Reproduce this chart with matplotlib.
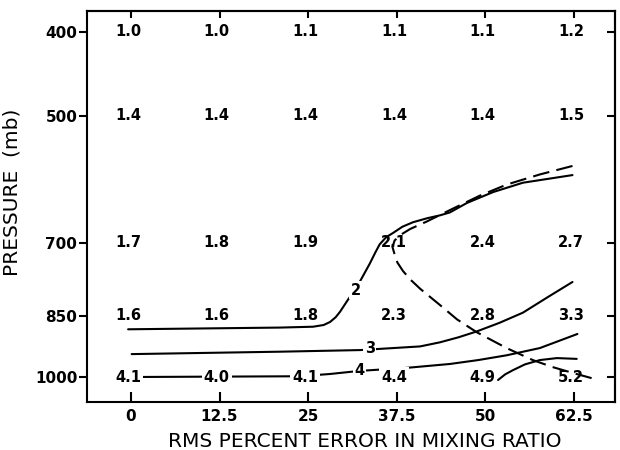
import numpy as np
import matplotlib
matplotlib.use("Agg")
import matplotlib.pyplot as plt

# ---- data ----
x_ticks = [0, 12.5, 25, 37.5, 50, 62.5]
x_tick_labels = ["0", "12.5", "25", "37.5", "50", "62.5"]
pressure_levels = [400, 500, 700, 850, 1000]

values_400 = ["1.0", "1.0", "1.1", "1.1", "1.1", "1.2"]
values_500 = ["1.4", "1.4", "1.4", "1.4", "1.4", "1.5"]
values_700 = ["1.7", "1.8", "1.9", "2.1", "2.4", "2.7"]
values_850 = ["1.6", "1.6", "1.8", "2.3", "2.8", "3.3"]
values_1000 = ["4.1", "4.0", "4.1", "4.4", "4.9", "5.2"]

# contour 2 (solid)
c2_x = [-0.4, 21.0, 25.7, 27.2, 28.1, 28.9, 29.5, 30.6, 31.9, 33.7, 34.5, 35.1, 36.0, 37.0, 38.3, 39.8, 41.8, 43.6, 45.0, 47.4, 51.1, 55.3, 62.3]
c2_p = [881, 877, 875, 871, 864, 853, 841, 815, 787, 740, 718, 703, 690, 682, 671, 663, 656, 651, 646, 630, 612, 597, 585]
# contour 3 (solid)
c3_x = [0.1, 21.0, 32.3, 40.8, 43.6, 46.2, 48.8, 52.0, 55.3, 58.8, 62.3]
c3_p = [941, 935, 931, 922, 912, 900, 886, 866, 843, 809, 777]
# contour 4 (solid)
c4_x = [0.0, 23.8, 28.1, 32.2, 38.9, 45.0, 49.0, 53.0, 57.7, 63.0]
c4_p = [1000, 998, 992, 984, 976, 966, 956, 944, 926, 892]
# contour 5 (solid, unlabeled)
c5_x = [51.8, 52.8, 53.9, 55.6, 57.7, 60.1, 62.9]
c5_p = [1008, 993, 982, 967, 956, 951, 953]
# dashed contour
cd_x = [62.3, 57.7, 53.0, 49.2, 45.0, 41.7, 39.4, 38.0, 37.2, 36.9, 37.2, 37.6, 38.4, 39.5, 40.8, 43.6, 46.0, 48.8, 53.0, 56.7, 59.5, 62.3, 65.0]
cd_p = [571, 584, 600, 618, 642, 662, 675, 686, 696, 708, 722, 738, 755, 773, 791, 826, 858, 888, 926, 956, 974, 989, 1003]

contour_labels = ["2", "3", "4"]
contour_label_x = [31.7, 33.7, 32.2]
contour_label_p = [794, 926, 982]

# ---- figure ----
fig = plt.figure(figsize=(6.2, 4.5), dpi=100)
ax = fig.add_axes([87/620, 48/450, 528/620, 391/450])

ax.set_yscale("log")
ax.set_xlim(-6.2, 68.3)
ax.set_ylim(1068.6, 378.4)

lw = 1.5
for cx, cp in [(c2_x, c2_p), (c3_x, c3_p), (c4_x, c4_p), (c5_x, c5_p)]:
    ax.plot(cx, cp, color="black", lw=lw, solid_joinstyle="round",
            solid_capstyle="round", zorder=2)
ax.plot(cd_x, cd_p, color="black", lw=lw, dashes=(8, 3.5), zorder=2)

rows = [values_400, values_500, values_700, values_850, values_1000]
for p, row in zip(pressure_levels, rows):
    for x, v in zip(x_ticks, row):
        kw = {}
        if p == 1000 and v not in ("5.2", "4.9"):
            kw["bbox"] = dict(boxstyle="square,pad=0.15", fc="white", ec="none")
        ax.text(x - 0.4, p, v, ha="center", va="center", fontsize=10.5,
                fontweight="bold", zorder=3, **kw)

for lab, x, p in zip(contour_labels, contour_label_x, contour_label_p):
    ax.text(x, p, lab, ha="center", va="center", fontsize=10.5, fontweight="bold",
            zorder=3, bbox=dict(boxstyle="square,pad=0.1", fc="white", ec="none"))

ax.set_xticks(x_ticks)
ax.set_xticklabels(x_tick_labels)
ax.set_yticks(pressure_levels)
ax.set_yticklabels([str(p) for p in pressure_levels])
ax.minorticks_off()
ax.yaxis.set_minor_locator(matplotlib.ticker.NullLocator())

for lab in ax.get_xticklabels() + ax.get_yticklabels():
    lab.set_fontweight("bold")
    lab.set_fontsize(11)

ax.tick_params(axis="y", which="major", direction="out", length=6, width=1.5, pad=1, left=True, right=False)
ax.tick_params(axis="x", which="major", direction="in", length=7, width=1.5, pad=5, top=False, bottom=True)

# top and right inward ticks via secondary axes
secx = ax.secondary_xaxis("top")
secx.set_xticks(x_ticks)
secx.set_xticklabels([])
secx.tick_params(direction="in", length=5, width=1.5)
secx.spines["top"].set_linewidth(1.5)

secy = ax.secondary_yaxis("right")
secy.set_yticks(pressure_levels)
secy.set_yticklabels([])
secy.yaxis.set_minor_locator(matplotlib.ticker.NullLocator())
secy.tick_params(direction="in", length=6, width=1.5)
secy.spines["right"].set_linewidth(1.5)

for s in ax.spines.values():
    s.set_linewidth(1.5)

ax.set_xlabel("RMS PERCENT ERROR IN MIXING RATIO", fontsize=14.5)
ax.xaxis.set_label_coords((365 - 87) / 528, (402 - 432) / 391)
ax.set_ylabel("PRESSURE  (mb)", fontsize=14.5)
ax.yaxis.set_label_coords((22 - 87) / 528, (402 - 192) / 391)

fig.savefig("out.png", dpi=100)
